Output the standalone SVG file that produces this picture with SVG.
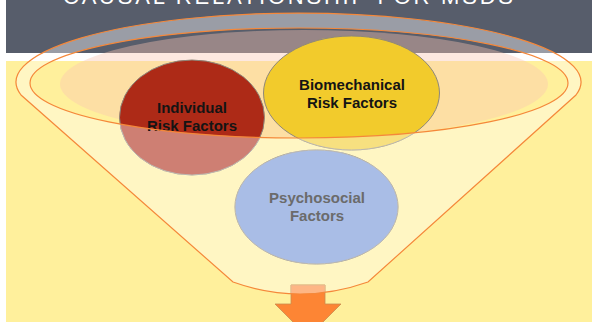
<svg xmlns="http://www.w3.org/2000/svg" width="592" height="322" viewBox="0 0 592 322">
<style>
.lbl{font-family:"Liberation Sans",Arial,sans-serif;font-weight:bold;font-size:15px;text-anchor:middle;fill:#141414}
.ov{fill:#ffffff;fill-opacity:0.4}
.node{stroke:#8e877a;stroke-width:1}
.rim{fill:none;stroke:#f5883a;stroke-width:1.2}
</style>
<defs>
<clipPath id="body">
<path clip-rule="evenodd" d="M21,95 A282.5,69 0 1 1 576,95 L368,282 Q300,306 233,282 Z M30,83 A269,55 0 1 1 568,83 A269,55 0 1 1 30,83 Z"/>
</clipPath>
</defs>
<rect x="0" y="0" width="592" height="322" fill="#ffffff"/>
<rect x="6" y="0" width="586" height="53" fill="#575d6b"/>
<rect x="6" y="61" width="586" height="261" fill="#fff09c"/>
<text x="63" y="4" textLength="450" lengthAdjust="spacing" font-family="Liberation Sans,Arial,sans-serif" font-size="22" fill="#ffffff">CAUSAL RELATIONSHIP FOR MSDS</text>

<g id="funnel">
<ellipse cx="304" cy="84" rx="244" ry="54" fill="#fac6b1" fill-opacity="0.4"/>
<path fill="#ffffff" fill-opacity="0.4" fill-rule="evenodd" d="M21,95 A282.5,69 0 1 1 576,95 L368,282 Q300,306 233,282 Z M30,83 A269,55 0 1 1 568,83 A269,55 0 1 1 30,83 Z"/>
</g>

<g id="connectors">
<path d="M291,285 H325 V304 H341 L308,337 L275,304 H291 Z" fill="#fd8534" stroke="#c98a4e" stroke-width="0.8"/>
<path d="M291,285 H325 V304 H341 L308,337 L275,304 H291 Z" class="ov" clip-path="url(#body)"/>
</g>

<g id="individual">
<ellipse class="node" cx="192" cy="117.5" rx="72.5" ry="57.5" fill="#ad2a17"/>
<ellipse cx="192" cy="117.5" rx="73" ry="58" class="ov" clip-path="url(#body)"/>
<text class="lbl" x="192" y="113">Individual</text>
<text class="lbl" x="192" y="131">Risk Factors</text>
</g>

<g id="biomechanical">
<ellipse class="node" cx="351.5" cy="93" rx="88" ry="57" fill="#f2cb2c"/>
<ellipse cx="351.5" cy="93" rx="88.5" ry="57.5" class="ov" clip-path="url(#body)"/>
<text class="lbl" x="352" y="90">Biomechanical</text>
<text class="lbl" x="352" y="108">Risk Factors</text>
</g>

<g id="psychosocial">
<ellipse class="node" cx="316.5" cy="207" rx="81.5" ry="57" fill="#7091d5"/>
<ellipse cx="316.5" cy="207" rx="82" ry="57.5" class="ov" clip-path="url(#body)"/>
<text class="lbl" x="317" y="203" style="fill:#6b6b6b">Psychosocial</text>
<text class="lbl" x="317" y="221" style="fill:#6b6b6b">Factors</text>
</g>

<g id="funnel-outline">
<path class="rim" d="M21,95 A282.5,69 0 1 1 576,95 L368,282 Q300,306 233,282 Z"/>
<ellipse class="rim" cx="299" cy="83" rx="269" ry="55"/>
</g>
</svg>
